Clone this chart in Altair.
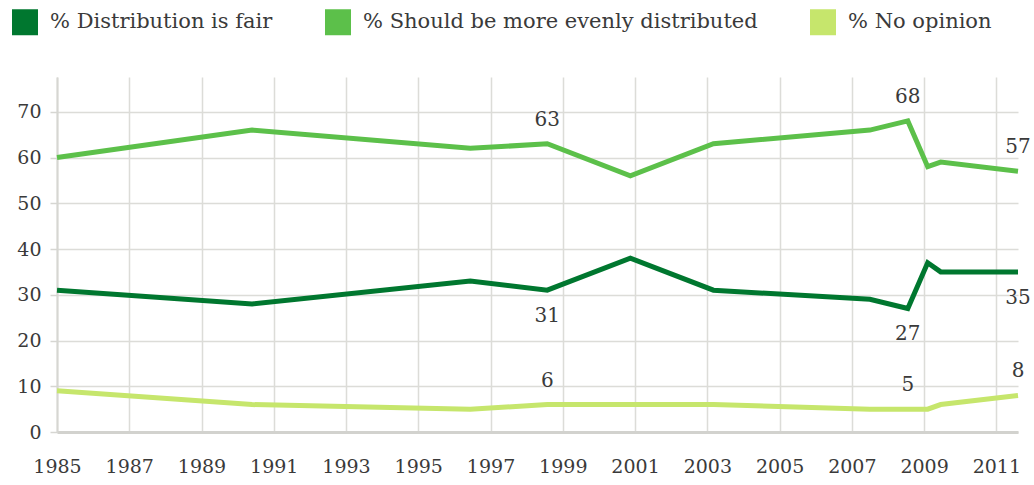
import altair as alt
import pandas as pd

# Survey dates (fractional years) and percentages for each answer
years = [1985.0, 1990.4, 1996.44, 1998.57, 2000.87, 2003.17, 2007.5, 2008.55, 2009.1, 2009.46, 2011.6]
fair = [31, 28, 33, 31, 38, 31, 29, 27, 37, 35, 35]
evenly = [60, 66, 62, 63, 56, 63, 66, 68, 58, 59, 57]
no_opinion = [9, 6, 5, 6, 6, 6, 5, 5, 5, 6, 8]

series_names = ["% Distribution is fair", "% Should be more evenly distributed", "% No opinion"]
series_colors = ["#00772f", "#5cc04a", "#c6e66c"]
tick_years = list(range(1985, 2012, 2))
labelled_points = [3, 7, 10]

FONT = "DejaVu Serif"
TEXT = "#3a3a3a"

rows = []
for name, vals in zip(series_names, [fair, evenly, no_opinion]):
    for i, (yr, v) in enumerate(zip(years, vals)):
        rows.append({"year": yr, "pct": v, "series": name,
                     "labelled": i in labelled_points,
                     "below": name == series_names[0]})
df = pd.DataFrame(rows)

x = alt.X("year:Q",
          scale=alt.Scale(domain=[1985, 2011.6], nice=False, zero=False),
          axis=alt.Axis(values=tick_years, format="d", title=None, ticks=False,
                        labelOverlap=False, labelFlush=False, labelFontSize=19,
                        labelPadding=25, domainWidth=3, domainColor="#d2d2ce"))
y = alt.Y("pct:Q",
          scale=alt.Scale(domain=[0, 77.6], nice=False),
          axis=alt.Axis(values=[0, 10, 20, 30, 40, 50, 60, 70], title=None,
                        tickSize=7, tickColor="#d6d6d2", tickWidth=1.5,
                        domainWidth=2, domainColor="#d6d6d2", labelPadding=9))
# legend swatches: a 13px square drawn with a 13px stroke gives a solid 26px block
color = alt.Color("series:N",
                  scale=alt.Scale(domain=series_names, range=series_colors),
                  sort=series_names,
                  legend=alt.Legend(title=None, orient="none", direction="horizontal",
                                    legendX=-45, legendY=-68,
                                    symbolType="square", symbolSize=169,
                                    symbolStrokeWidth=13, symbolOpacity=1,
                                    labelFont=FONT, labelFontSize=21, labelColor=TEXT,
                                    labelLimit=600, labelOffset=12, columnPadding=32))

lines = alt.Chart(df).mark_line(strokeWidth=5).encode(x=x, y=y, color=color,
                                                       detail="series:N")

above = alt.Chart(df).transform_filter("datum.labelled && !datum.below").mark_text(
    font=FONT, fontSize=20, color=TEXT, dy=-24
).encode(x="year:Q", y="pct:Q", text="pct:Q")

below = alt.Chart(df).transform_filter("datum.labelled && datum.below").mark_text(
    font=FONT, fontSize=20, color=TEXT, dy=26
).encode(x="year:Q", y="pct:Q", text="pct:Q")

chart = (lines + above + below).properties(
    width=961, height=355,
    autosize=alt.AutoSizeParams(type="none"),
    padding={"left": 57, "top": 77, "right": 16, "bottom": 53},
    background="white",
).configure_view(stroke=None).configure_axis(
    labelFont=FONT, labelFontSize=19, labelColor=TEXT,
    gridColor="#dcdcd8", gridWidth=1.5,
)

chart.save("out.html", embed_options={"renderer": "svg", "actions": False})
